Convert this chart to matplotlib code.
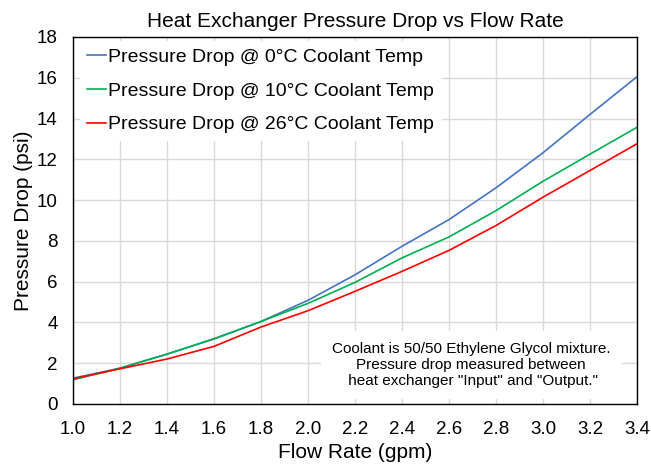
import matplotlib.pyplot as plt
import numpy as np

flow = [1.0, 1.2, 1.4, 1.6, 1.8, 2.0, 2.2, 2.4, 2.6, 2.8, 3.0, 3.2, 3.4]
drop_0c = [1.26, 1.75, 2.44, 3.18, 4.04, 5.08, 6.33, 7.73, 9.04, 10.6, 12.32, 14.2, 16.05]
drop_10c = [1.18, 1.75, 2.44, 3.2, 4.04, 4.93, 5.96, 7.16, 8.19, 9.48, 10.92, 12.25, 13.57]
drop_26c = [1.23, 1.72, 2.2, 2.82, 3.77, 4.57, 5.52, 6.5, 7.53, 8.75, 10.14, 11.45, 12.76]

LABELS = [
    "Pressure Drop @ 0°C Coolant Temp",
    "Pressure Drop @ 10°C Coolant Temp",
    "Pressure Drop @ 26°C Coolant Temp",
]
COLORS = ["#4472C4", "#00B050", "#FF0000"]
NOTE = 'Coolant is 50/50 Ethylene Glycol mixture.\nPressure drop measured between\n heat exchanger "Input" and "Output."'

plt.rcParams["font.family"] = ["Liberation Sans", "DejaVu Sans"]

fig = plt.figure(figsize=(6.51, 4.68), dpi=100)
ax = fig.add_axes([0.112, 0.137, 0.8665, 0.784])

for series, label, color in zip([drop_0c, drop_10c, drop_26c], LABELS, COLORS):
    ax.plot(flow, series, color=color, linewidth=1.2, label=label)

ax.set_xlim(1.0, 3.4)
ax.set_ylim(0, 18)
ax.set_xticks(np.arange(1.0, 3.41, 0.2))
ax.set_xticklabels([f"{v:.1f}" for v in np.arange(1.0, 3.41, 0.2)])
ax.set_yticks(range(0, 19, 2))
ax.tick_params(length=0, labelsize=13.5)
ax.tick_params(axis="x", pad=12)
ax.tick_params(axis="y", pad=11)
ax.grid(color="#d9d9d9", linewidth=1.0)
ax.set_axisbelow(True)
for spine in ax.spines.values():
    spine.set_color("black")
    spine.set_linewidth(1.0)

ax.set_xlabel("Flow Rate (gpm)", fontsize=15, labelpad=4)
ax.set_ylabel("Pressure Drop (psi)", fontsize=15, labelpad=3)
ax.set_title("Heat Exchanger Pressure Drop vs Flow Rate", fontsize=15, pad=7)

leg = ax.legend(loc="upper left", fontsize=14, frameon=True, handlelength=0.95,
                handletextpad=0.12, labelspacing=0.82, borderaxespad=0.2,
                bbox_to_anchor=(0.005, 1.0))
leg.get_frame().set_facecolor("white")
leg.get_frame().set_edgecolor("none")
leg.get_frame().set_alpha(1.0)

ax.text(0.706, 0.106, NOTE, transform=ax.transAxes, ha="center", va="center",
        fontsize=11, linespacing=1.2,
        bbox=dict(facecolor="white", edgecolor="none", pad=8))

fig.savefig("out.png", dpi=100)
